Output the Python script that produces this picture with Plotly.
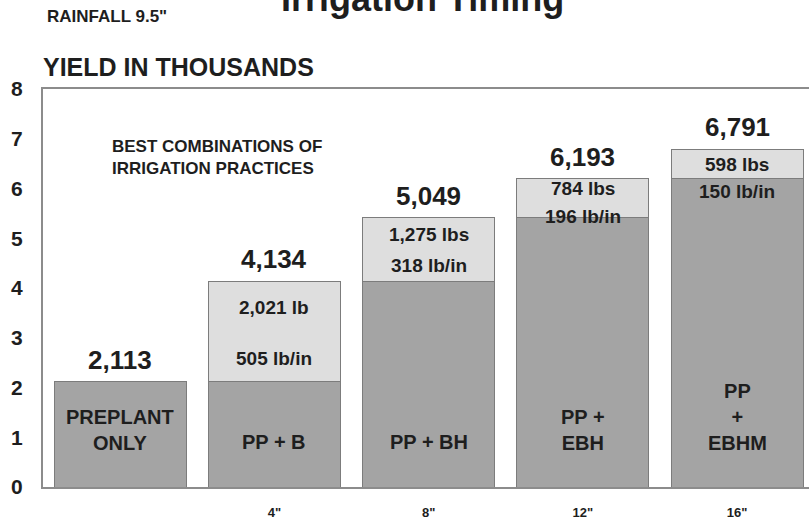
import plotly.graph_objects as go

# ---- data ----
water_applied = ["", '4"', '8"', '12"', '16"']
base_yield = [2.113, 2.113, 4.134, 5.409, 6.193]      # thousands (dark part)
added_yield = [0.0, 2.021, 1.275, 0.784, 0.598]       # thousands (light part)
total_labels = ["2,113", "4,134", "5,049", "6,193", "6,791"]
practice_labels = ["PREPLANT<br>ONLY", "PP + B", "PP + BH", "PP +<br>EBH", "PP<br>+<br>EBHM"]
gain_labels = ["", "2,021 lb", "1,275 lbs", "784 lbs", "598 lbs"]
per_inch_labels = ["", "505 lb/in", "318 lb/in", "196 lb/in", "150 lb/in"]
y_ticks = [0, 1, 2, 3, 4, 5, 6, 7, 8]

# ---- style / layout ----
FONT = "Liberation Sans, Arial, Helvetica, sans-serif"
TXT = "#1e1e1e"
DARK = "#a4a4a4"
LIGHT = "#dedede"
EDGE = "#7c7c7c"
gain_offset_px = [0, 26, 17, 10, 15]
per_inch_offset_px = [0, 77, 48, 38, 42]

x = list(range(len(water_applied)))
tops = [b + a for b, a in zip(base_yield, added_yield)]

fig = go.Figure()
fig.add_trace(go.Bar(x=x, y=base_yield, marker=dict(color=DARK, line=dict(color=EDGE, width=1)),
                     hoverinfo="skip", showlegend=False))
fig.add_trace(go.Bar(x=x, y=added_yield, marker=dict(color=LIGHT, line=dict(color=EDGE, width=1)),
                     hoverinfo="skip", showlegend=False))

ann = []
def bold(size):
    return dict(family=FONT, size=size, color=TXT, weight="bold")

for i in x:
    ann.append(dict(x=i, y=tops[i], xref="x", yref="y", text=total_labels[i], showarrow=False,
                    yanchor="middle", yshift=22, font=bold(26)))
    n = practice_labels[i].count("<br>")
    ann.append(dict(x=i, y=0, xref="x", yref="y", text=practice_labels[i], showarrow=False,
                    yanchor="middle", yshift=45 + n * 12.5, font=bold(20)))
    if gain_labels[i]:
        ann.append(dict(x=i, y=tops[i], xref="x", yref="y", text=gain_labels[i], showarrow=False,
                        yanchor="middle", yshift=-gain_offset_px[i], font=bold(19)))
        ann.append(dict(x=i, y=tops[i], xref="x", yref="y", text=per_inch_labels[i], showarrow=False,
                        yanchor="middle", yshift=-per_inch_offset_px[i], font=bold(19)))

ann.append(dict(x=0.4948, y=1.2286, xref="paper", yref="paper", text="Irrigation Timing", showarrow=False,
                xanchor="center", yanchor="middle", font=bold(36)))
ann.append(dict(x=0.0026, y=1.1834, xref="paper", yref="paper", text='RAINFALL 9.5"', showarrow=False,
                xanchor="left", yanchor="middle", font=bold(17)))
ann.append(dict(x=-0.002, y=1.0553, xref="paper", yref="paper", text="YIELD IN THOUSANDS", showarrow=False,
                xanchor="left", yanchor="middle", font=bold(25)))
ann.append(dict(x=-0.066, y=6.63, xref="x", yref="y", text="BEST COMBINATIONS OF<br>IRRIGATION PRACTICES",
                showarrow=False, xanchor="left", yanchor="middle", align="left", font=bold(17)))

fig.update_layout(
    width=809, height=519,
    margin=dict(l=43, r=0, t=89, b=32),
    paper_bgcolor="white", plot_bgcolor="white",
    barmode="stack", bargap=0.144,
    annotations=ann,
    xaxis=dict(range=[-0.5, 4.466], tickvals=x, ticktext=water_applied, showgrid=False, zeroline=False,
               showline=True, mirror=True, linecolor="#8c8c8c", linewidth=2,
               tickfont=bold(13), ticks="", ticklabelstandoff=12, fixedrange=True),
    yaxis=dict(range=[0, 8], tickvals=y_ticks, showgrid=False, zeroline=False,
               showline=True, linecolor="#8c8c8c", linewidth=2,
               tickfont=bold(21), ticks="", ticklabelstandoff=14, fixedrange=True),
)

fig.write_html("out.html", config={"displayModeBar": False},
               post_script="document.body.style.margin='0';document.body.style.overflow='hidden';")
